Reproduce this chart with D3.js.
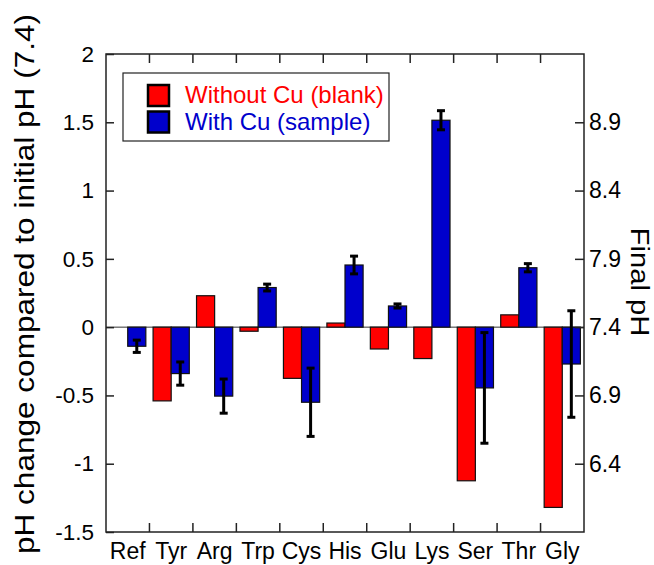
<!DOCTYPE html>
<html>
<head>
<meta charset="utf-8">
<script src="https://cdn.jsdelivr.net/npm/d3@7"></script>
<style>
  html, body { margin: 0; padding: 0; background: #fff; }
  svg { display: block; font-family: "Liberation Sans", Arial, sans-serif; }
</style>
</head>
<body>
<svg id="chart" width="654" height="565"></svg>
<script>
// Amino acids tested
const categories = ["Ref", "Tyr", "Arg", "Trp", "Cys", "His", "Glu", "Lys", "Ser", "Thr", "Gly"];
const seriesNames = ["Without Cu (blank)", "With Cu (sample)"];
const seriesColors = ["#ff0000", "#0000cc"];

// pH change relative to the initial pH of 7.4
const blankValues  = [0, -0.54, 0.23, -0.03, -0.375, 0.03, -0.16, -0.23, -1.125, 0.09, -1.32];
const sampleValues = [-0.14, -0.34, -0.505, 0.29, -0.55, 0.455, 0.155, 1.515, -0.445, 0.435, -0.27];
const sampleErrors = [0.045, 0.085, 0.125, 0.025, 0.25, 0.065, 0.015, 0.07, 0.405, 0.03, 0.39];

const initialPH = 7.4;
const leftTicks  = [-1.5, -1, -0.5, 0, 0.5, 1, 1.5, 2];
const rightTicks = [6.4, 6.9, 7.4, 7.9, 8.4, 8.9];

const svg = d3.select("#chart");
const plot = { left: 106, right: 584, top: 54, bottom: 532 };

const x = d3.scaleBand().domain(categories).range([plot.left, plot.right]).padding(0);
const xs = d3.scaleBand().domain([0, 1]).range([0, x.bandwidth()]).paddingInner(0).paddingOuter(0.2);
const y = d3.scaleLinear().domain([-1.5, 2]).range([plot.bottom, plot.top]);
const yRight = d3.scaleLinear().domain([-1.5 + initialPH, 2 + initialPH]).range([plot.bottom, plot.top]);

const fmt = v => String(v);

// zero line across the plot
svg.append("line")
  .attr("x1", plot.left).attr("x2", plot.right)
  .attr("y1", y(0)).attr("y2", y(0))
  .attr("stroke", "#333").attr("stroke-width", 1);

// bars
const rows = categories.map((c, i) => ({ c, vals: [blankValues[i], sampleValues[i]], err: sampleErrors[i] }));
const groups = svg.append("g").selectAll("g").data(rows).join("g")
  .attr("transform", d => `translate(${x(d.c)},0)`);

groups.selectAll("rect")
  .data(d => d.vals.map((v, k) => ({ v, k })).filter(e => e.v !== 0))
  .join("rect")
  .attr("x", e => xs(e.k))
  .attr("width", xs.bandwidth())
  .attr("y", e => y(Math.max(0, e.v)))
  .attr("height", e => Math.abs(y(e.v) - y(0)))
  .attr("fill", e => seriesColors[e.k])
  .attr("stroke", "#111").attr("stroke-width", 1.2);

// error bars on the Cu series
const cap = 8;
groups.each(function (d) {
  const g = d3.select(this);
  const cx = xs(1) + xs.bandwidth() / 2;
  const v = d.vals[1];
  const y1 = y(v + d.err), y2 = y(v - d.err);
  g.append("line").attr("x1", cx).attr("x2", cx).attr("y1", y1).attr("y2", y2)
    .attr("stroke", "#000").attr("stroke-width", 3);
  [y1, y2].forEach(yy => g.append("line")
    .attr("x1", cx - cap / 2).attr("x2", cx + cap / 2).attr("y1", yy).attr("y2", yy)
    .attr("stroke", "#000").attr("stroke-width", 3));
});

// frame
svg.append("rect")
  .attr("x", plot.left).attr("y", plot.top)
  .attr("width", plot.right - plot.left).attr("height", plot.bottom - plot.top)
  .attr("fill", "none").attr("stroke", "#222").attr("stroke-width", 1.5);

// left axis
const axL = svg.append("g").attr("transform", `translate(${plot.left},0)`)
  .call(d3.axisLeft(y).tickValues(leftTicks).tickFormat(fmt).tickSizeInner(-8).tickSizeOuter(0).tickPadding(12));
axL.select(".domain").remove();
axL.selectAll("line").attr("stroke", "#222").attr("stroke-width", 1.5);
axL.selectAll("text").attr("font-size", 22.5).attr("font-family", "Liberation Sans, Arial, sans-serif").attr("fill", "#000");

// right axis (final pH)
const axR = svg.append("g").attr("transform", `translate(${plot.right},0)`)
  .call(d3.axisRight(yRight).tickValues(rightTicks).tickFormat(fmt).tickSizeInner(-9).tickSizeOuter(0).tickPadding(5));
axR.select(".domain").remove();
axR.selectAll("line").attr("stroke", "#222").attr("stroke-width", 1.5);
axR.selectAll("text").attr("font-size", 23).attr("font-family", "Liberation Sans, Arial, sans-serif").attr("fill", "#000");

// bottom axis: labels at category centres, ticks at category boundaries
const axB = svg.append("g").attr("transform", `translate(0,${plot.bottom})`)
  .call(d3.axisBottom(x).tickSize(0).tickPadding(11));
axB.select(".domain").remove();
axB.selectAll("text").attr("font-size", 23).attr("font-family", "Liberation Sans, Arial, sans-serif").attr("fill", "#000");

const bounds = categories.slice(1).map(c => x(c));
svg.append("g").selectAll("line").data(bounds).join("line")
  .attr("x1", d => d).attr("x2", d => d)
  .attr("y1", plot.bottom).attr("y2", plot.bottom - 9)
  .attr("stroke", "#222").attr("stroke-width", 1.5);
svg.append("g").selectAll("line").data(bounds).join("line")
  .attr("x1", d => d).attr("x2", d => d)
  .attr("y1", plot.top).attr("y2", plot.top + 9)
  .attr("stroke", "#222").attr("stroke-width", 1.5);

// axis titles
svg.append("text")
  .attr("transform", "translate(34,284) rotate(-90)")
  .attr("text-anchor", "middle")
  .attr("font-size", 28)
  .attr("textLength", 540).attr("lengthAdjust", "spacingAndGlyphs")
  .text("pH change compared to initial pH (7.4)");

svg.append("text")
  .attr("transform", "translate(631,282) rotate(90)")
  .attr("text-anchor", "middle")
  .attr("font-size", 26)
  .attr("textLength", 109).attr("lengthAdjust", "spacingAndGlyphs")
  .text("Final pH");

// legend
const legend = svg.append("g");
legend.append("rect")
  .attr("x", 123).attr("y", 73).attr("width", 266).attr("height", 68)
  .attr("fill", "#fff").attr("stroke", "#222").attr("stroke-width", 1.2);
seriesNames.forEach((name, k) => {
  const yy = 85 + k * 26.5;
  legend.append("rect")
    .attr("x", 148).attr("y", yy).attr("width", 21).attr("height", 21)
    .attr("fill", seriesColors[k]).attr("stroke", "#000").attr("stroke-width", 2.5);
  legend.append("text")
    .attr("x", 185).attr("y", yy + 18)
    .attr("font-size", 24)
    .attr("fill", seriesColors[k])
    .text(name);
});
</script>
</body>
</html>
